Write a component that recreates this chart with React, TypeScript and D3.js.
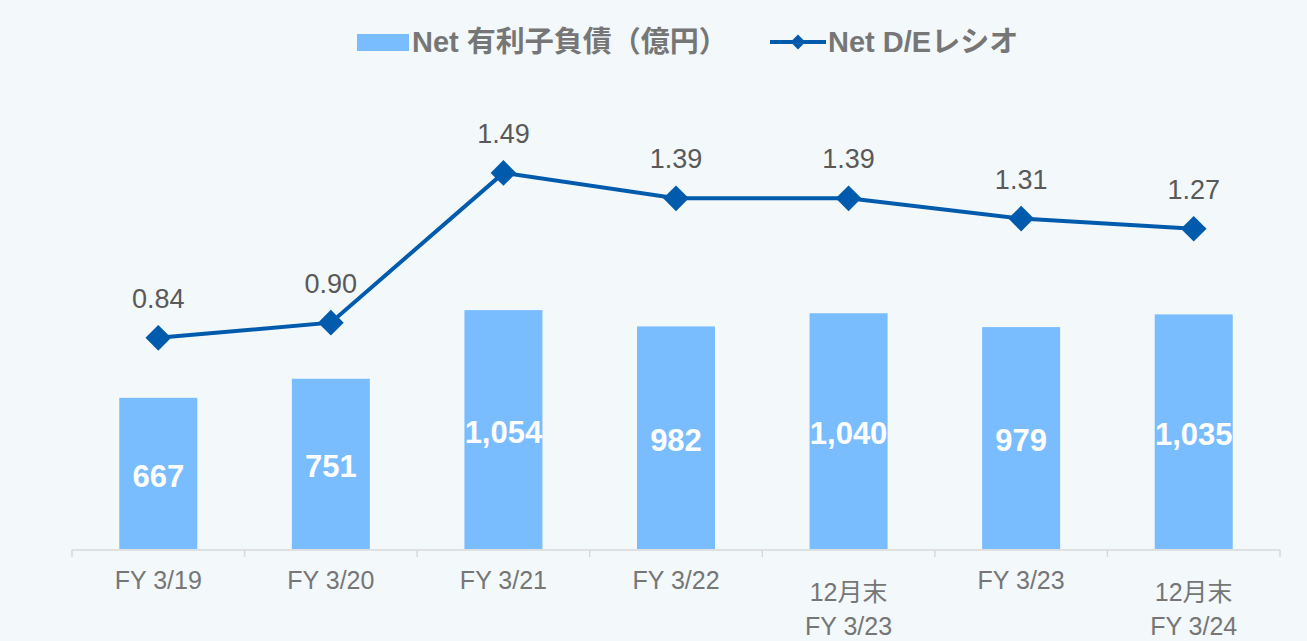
import React, { useRef, useEffect } from 'react';
import * as d3 from 'd3';

// data
const categories = ['FY 3/19', 'FY 3/20', 'FY 3/21', 'FY 3/22', '12月末\nFY 3/23', 'FY 3/23', '12月末\nFY 3/24'];
const netDebt = [667, 751, 1054, 982, 1040, 979, 1035];
const deRatio = [0.84, 0.90, 1.49, 1.39, 1.39, 1.31, 1.27];
const legendLabels = ['Net 有利子負債（億円）', 'Net D/Eレシオ'];

const W = 1307;
const H = 641;
const FONT = '"Liberation Sans", Arial, "Noto Sans CJK JP", sans-serif';

const App = () => {
    const ref = useRef<SVGSVGElement>(null);

    useEffect(() => {
        const svg = d3.select(ref.current);
        svg.selectAll('*').remove();

        svg.append('rect').attr('width', W).attr('height', H).attr('fill', '#F3F8FB');

        const baseY = 549;
        const x = d3.scaleBand().domain(categories).range([72, 1280]).padding(0);
        const yBar = d3.scaleLinear().domain([0, 2400]).range([baseY, 5]);
        const yLine = d3.scaleLinear().domain([0, 2.14]).range([551, 8]);
        const barW = 78;
        const cx = (c: string) => (x(c) as number) + x.bandwidth() / 2;

        // bars
        svg.append('g')
            .selectAll('rect')
            .data(netDebt)
            .enter()
            .append('rect')
            .attr('x', (d, i) => cx(categories[i]) - barW / 2)
            .attr('y', (d) => yBar(d))
            .attr('width', barW)
            .attr('height', (d) => baseY - yBar(d))
            .attr('fill', '#7ABDFF');

        // bar labels
        svg.append('g')
            .selectAll('text')
            .data(netDebt)
            .enter()
            .append('text')
            .attr('x', (d, i) => cx(categories[i]))
            .attr('y', (d) => (yBar(d) + baseY) / 2 + 2)
            .attr('dy', '0.36em')
            .attr('text-anchor', 'middle')
            .style('font-family', FONT)
            .style('font-size', '31px')
            .style('font-weight', 'bold')
            .style('fill', '#fff')
            .text((d) => d3.format(',')(d));

        // x axis
        const ax = svg.append('g');
        ax.append('line')
            .attr('x1', 72).attr('x2', 1280)
            .attr('y1', baseY + 1).attr('y2', baseY + 1)
            .attr('stroke', '#D9D9D9').attr('stroke-width', 1.5);
        const ticks = categories.map((c) => x(c) as number).concat([1280]);
        ax.selectAll('.tick')
            .data(ticks)
            .enter()
            .append('line')
            .attr('x1', (d) => d).attr('x2', (d) => d)
            .attr('y1', baseY + 1).attr('y2', baseY + 8)
            .attr('stroke', '#D9D9D9').attr('stroke-width', 1.5);

        categories.forEach((c) => {
            const lines = c.split('\n');
            const t = ax.append('text')
                .attr('text-anchor', 'middle')
                .style('font-family', FONT)
                .style('font-size', '25px')
                .style('fill', '#767676');
            if (lines.length === 1) {
                t.attr('x', cx(c)).attr('y', 589).text(c);
            } else {
                lines.forEach((l, i) => {
                    t.append('tspan').attr('x', cx(c)).attr('y', 601 + i * 34).text(l);
                });
            }
        });

        // line
        const line = d3.line<number>()
            .x((d, i) => cx(categories[i]))
            .y((d) => yLine(d));
        svg.append('path')
            .datum(deRatio)
            .attr('d', line)
            .attr('fill', 'none')
            .attr('stroke', '#005BAC')
            .attr('stroke-width', 4);

        svg.append('g')
            .selectAll('path')
            .data(deRatio)
            .enter()
            .append('path')
            .attr('d', d3.symbol().type(d3.symbolDiamond2).size(420)() as string)
            .attr('transform', (d, i) => `translate(${cx(categories[i])},${yLine(d)})`)
            .attr('fill', '#005BAC');

        svg.append('g')
            .selectAll('text')
            .data(deRatio)
            .enter()
            .append('text')
            .attr('x', (d, i) => cx(categories[i]))
            .attr('y', (d) => yLine(d) - 30)
            .attr('text-anchor', 'middle')
            .style('font-family', FONT)
            .style('font-size', '27px')
            .style('fill', '#595959')
            .text((d) => d.toFixed(2));

        // legend
        const lg = svg.append('g');
        lg.append('rect').attr('x', 357).attr('y', 34).attr('width', 52).attr('height', 17).attr('fill', '#7ABDFF');
        lg.append('text')
            .attr('x', 412).attr('y', 52)
            .style('font-family', FONT).style('font-size', '29px').style('font-weight', 'bold')
            .style('fill', '#767676')
            .text(legendLabels[0]);
        lg.append('line')
            .attr('x1', 770).attr('x2', 826).attr('y1', 42).attr('y2', 42)
            .attr('stroke', '#005BAC').attr('stroke-width', 4);
        lg.append('path')
            .attr('d', d3.symbol().type(d3.symbolDiamond2).size(140)() as string)
            .attr('transform', 'translate(798,42)')
            .attr('fill', '#005BAC');
        lg.append('text')
            .attr('x', 828).attr('y', 52)
            .style('font-family', FONT).style('font-size', '29px').style('font-weight', 'bold')
            .style('fill', '#767676')
            .text(legendLabels[1]);
    }, []);

    return (
        <div style={{ position: 'fixed', left: 0, top: 0, width: W, height: H }}>
            <svg ref={ref} width={W} height={H} style={{ display: 'block' }}></svg>
        </div>
    );
};

export default App;
